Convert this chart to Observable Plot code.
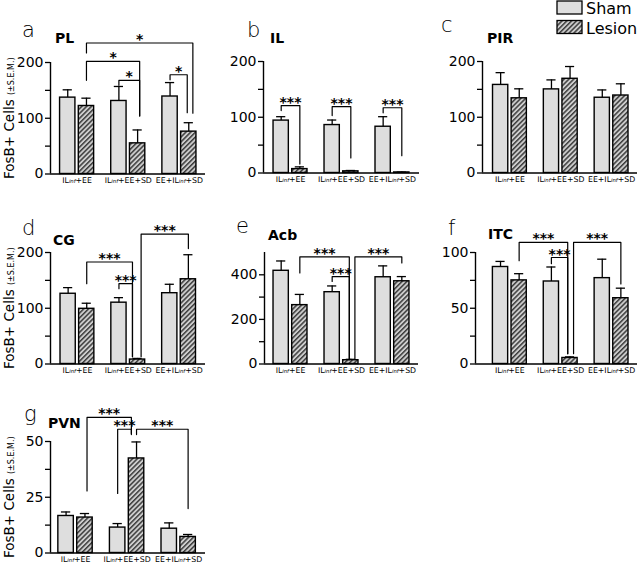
<!DOCTYPE html>
<html><head><meta charset="utf-8">
<script src="https://cdn.jsdelivr.net/npm/d3@7"></script>
<script src="https://cdn.jsdelivr.net/npm/@observablehq/plot@0.6"></script>
<style>
body{margin:0;background:#fff;}
#root{position:relative;width:640px;height:564px;overflow:hidden;font-family:"DejaVu Sans",sans-serif;}
#root svg{overflow:visible;}
</style></head><body><div id="root"></div>
<script>
// ---------- data ----------
const groups = ["ILinf+EE", "ILinf+EE+SD", "EE+ILinf+SD"];
const seriesNames = ["Sham", "Lesion"];
const regions = ["PL", "IL", "PIR", "CG", "Acb", "ITC", "PVN"];
const panelLetters = ["a", "b", "c", "d", "e", "f", "g"];
const shamMean   = [[137,131,139],[94,86,83],[158,150,135],[126,110,127],[418,322,389],[87,74,77],[16.6,11.4,10.9]];
const shamSem    = [[14,26,25],[7,9,18],[22,17,14],[11,9,16],[44,28,51],[5,13,17],[1.8,1.8,2.6]];
const lesionMean = [[122,55,76],[7,3,1],[134,169,139],[99,8,152],[264,17,371],[75,5.4,59],[15.9,42.4,7.2]];
const lesionSem  = [[14,24,16],[4,1.5,0.6],[17,22,21],[10,2,44],[48,4,21],[6,1,9],[1.8,7.4,1.1]];
const yMax = [200,200,200,200,500,100,50];
const yTicks = [[0,100,200],[0,100,200],[0,100,200],[0,100,200],[0,200,400],[0,50,100],[0,25,50]];
const yMinorTicks = [[50,150],[50,150],[50,150],[50,150],[100,300],[25,75],[12.5,37.5]];
const yLabel = "FosB+ Cells (±S.E.M.)";
// significance brackets: region, from bar (group, series) to bar, level and leg ends (data units)
const brackets = [
  {r:0,g1:0,s1:1,g2:2,s2:1,level:235,yb1:217,yb2:109,label:"*",n1:0,n2:0.08},
  {r:0,g1:0,s1:1,g2:1,s2:1,level:202,yb1:168,yb2:104,label:"*",n1:0,n2:0.04},
  {r:0,g1:1,s1:0,g2:1,s2:1,level:168,yb1:159,yb2:104,label:"*",n1:0,n2:0.04},
  {r:0,g1:2,s1:0,g2:2,s2:1,level:178,yb1:169,yb2:110,label:"*",n1:0,n2:-0.03},
  {r:1,g1:0,s1:0,g2:0,s2:1,level:121,yb1:112,yb2:16,label:"***",n1:0,n2:0},
  {r:1,g1:1,s1:0,g2:1,s2:1,level:119,yb1:103,yb2:27,label:"***",n1:0,n2:0},
  {r:1,g1:2,s1:0,g2:2,s2:1,level:117,yb1:108,yb2:31,label:"***",n1:0,n2:0},
  {r:3,g1:0,s1:1,g2:1,s2:1,level:183,yb1:144,yb2:13,label:"***",n1:0,n2:-0.1},
  {r:3,g1:1,s1:0,g2:1,s2:1,level:144,yb1:135,yb2:13,label:"***",n1:0,n2:-0.1},
  {r:3,g1:1,s1:1,g2:2,s2:1,level:233,yb1:13,yb2:207,label:"***",n1:0.07,n2:0},
  {r:4,g1:0,s1:1,g2:1,s2:1,level:480,yb1:408,yb2:20,label:"***",n1:0,n2:-0.03},
  {r:4,g1:1,s1:0,g2:1,s2:1,level:392,yb1:370,yb2:20,label:"***",n1:0,n2:-0.03},
  {r:4,g1:1,s1:1,g2:2,s2:1,level:480,yb1:20,yb2:453,label:"***",n1:0.08,n2:0},
  {r:5,g1:0,s1:1,g2:1,s2:1,level:109,yb1:92.6,yb2:9.3,label:"***",n1:0,n2:-0.045},
  {r:5,g1:1,s1:0,g2:1,s2:1,level:95.5,yb1:90,yb2:9.3,label:"***",n1:0,n2:-0.045},
  {r:5,g1:1,s1:1,g2:2,s2:1,level:109,yb1:9.3,yb2:71.8,label:"***",n1:0.07,n2:0},
  {r:6,g1:0,s1:1,g2:1,s2:1,level:60.8,yb1:27.8,yb2:53.6,label:"***",n1:0.04,n2:-0.1},
  {r:6,g1:1,s1:0,g2:1,s2:1,level:55.5,yb1:26.7,yb2:53.1,label:"***",n1:0,n2:-0.1},
  {r:6,g1:1,s1:1,g2:2,s2:1,level:55.5,yb1:53.1,yb2:19.9,label:"***",n1:0,n2:0}
];

// ---------- layout ----------
const layout = [
  {left:50,  top:61.5,  w:155, lo:-0.52,  hi:2.51, letter:[22,37],  title:[55,43],  ylab:true},
  {left:263, top:61,    w:156, lo:-0.53,  hi:2.53, letter:[247,37], title:[270,43]},
  {left:482, top:61,    w:155, lo:-0.54,  hi:2.51, letter:[441,32], title:[487,43]},
  {left:50,  top:252,   w:155, lo:-0.53,  hi:2.52, letter:[22,235], title:[53,245], ylab:true},
  {left:264, top:252,   w:154, lo:-0.51,  hi:2.51, letter:[236,233],title:[268,240]},
  {left:475, top:252,   w:162, lo:-0.675, hi:2.51, letter:[448,235],title:[488,239]},
  {left:50,  top:441.3, w:155, lo:-0.485, hi:2.52, letter:[24,421], title:[48,428], ylab:true}
];
const FH = 111.5, ML = 48, MR = 4, MT = 50, MB = 22;
const W_BAR = 0.15, OFF = 0.183, CAP = 0.09;
const pos = (g, s) => g + (s === 0 ? -OFF : OFF);

const root = document.getElementById("root");

regions.forEach((name, i) => {
  const L = layout[i];
  const rows = [];
  groups.forEach((gname, g) => {
    rows.push({g, s:0, mean: shamMean[i][g], sem: shamSem[i][g], x: pos(g,0)});
    rows.push({g, s:1, mean: lesionMean[i][g], sem: lesionSem[i][g], x: pos(g,1)});
  });
  const bks = brackets.filter(b => b.r === i).map((b, k) => ({...b, k, xa: pos(b.g1,b.s1)+b.n1, xb: pos(b.g2,b.s2)+b.n2}));
  const pts = bks.flatMap(b => [
    {k:b.k, x:b.xa, y:b.yb1}, {k:b.k, x:b.xa, y:b.level},
    {k:b.k, x:b.xb, y:b.level}, {k:b.k, x:b.xb, y:b.yb2}]);
  const hatchId = "hatch" + i;
  const major = yTicks[i];
  const marks = [
    Plot.rectY(rows.filter(d => d.s === 0), {x1: d => d.x - W_BAR, x2: d => d.x + W_BAR, y1: () => 0, y2: "mean", fill: "#dedede", stroke: "black", strokeWidth: 1.4}),
    Plot.rectY(rows.filter(d => d.s === 1), {x1: d => d.x - W_BAR, x2: d => d.x + W_BAR, y1: () => 0, y2: "mean", fill: `url(#${hatchId})`, stroke: "black", strokeWidth: 1.4}),
    Plot.ruleX(rows, {x: "x", y1: "mean", y2: d => d.mean + d.sem, stroke: "black", strokeWidth: 1.3}),
    Plot.ruleY(rows, {y: d => d.mean + d.sem, x1: d => d.x - CAP, x2: d => d.x + CAP, stroke: "black", strokeWidth: 1.3}),
    Plot.line(pts, {x: "x", y: "y", z: "k", stroke: "black", strokeWidth: 1.2}),
    Plot.text(bks, {x: d => (d.xa + d.xb) / 2, y: "level", text: "label", lineAnchor: "bottom", dy: 1, fontSize: 14, fontWeight: "bold", fill: "black"}),
    Plot.ruleX([L.lo], {stroke: "black", strokeWidth: 1.4}),
    Plot.ruleY([0], {stroke: "black", strokeWidth: 1.4}),
    Plot.axisY({ticks: [...major, ...yMinorTicks[i]], tickFormat: d => major.includes(d) ? String(d) : "", tickSize: 5, tickPadding: 2, fontSize: 14, label: null, strokeWidth: 1.3}),
    Plot.axisX({ticks: [0,1,2], tickFormat: k => groups[k], tickSize: 0, tickPadding: 3, fontSize: 7.8, label: null})
  ];
  if (L.ylab) marks.push(Plot.text([yLabel], {frameAnchor: "left", dx: -37, rotate: -90, fontSize: 13.5, textAnchor: "middle", lineAnchor: "bottom", fill: "black"}));
  const svg = Plot.plot({
    width: ML + L.w + MR, height: MT + FH + MB,
    marginLeft: ML, marginRight: MR, marginTop: MT, marginBottom: MB,
    x: {type: "linear", domain: [L.lo, L.hi]},
    y: {domain: [0, yMax[i]]},
    style: {fontFamily: "DejaVu Sans", background: "transparent", overflow: "visible", maxWidth: "none", color: "black"},
    marks
  });
  const defs = d3.select(svg).insert("defs", ":first-child");
  const pat = defs.append("pattern").attr("id", hatchId).attr("patternUnits", "userSpaceOnUse")
    .attr("width", 3.4).attr("height", 3.4).attr("patternTransform", "rotate(45)");
  pat.append("rect").attr("width", 3.4).attr("height", 3.4).attr("fill", "#cdcdcd");
  pat.append("rect").attr("width", 1.5).attr("height", 3.4).attr("fill", "#3c3c3c");
  d3.select(svg).selectAll("text").each(function () {
    const t = this.textContent;
    const sel = d3.select(this);
    if (t === yLabel) {
      sel.text(null);
      sel.append("tspan").text("FosB+ Cells ");
      sel.append("tspan").attr("font-size", 8).text("(±S.E.M.)");
    } else if (t.includes("inf")) {
      const parts = t.split("inf");
      sel.text(null);
      parts.forEach((p, k) => {
        if (k > 0) sel.append("tspan").attr("font-size", 5.3).attr("font-style", "italic").text("inf");
        if (p) sel.append("tspan").text(p);
      });
    }
  });
  svg.style.position = "absolute";
  svg.style.left = (L.left - ML) + "px";
  svg.style.top = (L.top - MT) + "px";
  root.appendChild(svg);
});

// ---------- overlay: panel letters, titles, legend ----------
const ov = d3.select(root).append("svg").attr("width", 640).attr("height", 564)
  .style("position", "absolute").style("left", "0px").style("top", "0px");
const odefs = ov.append("defs");
const opat = odefs.append("pattern").attr("id", "hatchLegend").attr("patternUnits", "userSpaceOnUse")
  .attr("width", 3.4).attr("height", 3.4).attr("patternTransform", "rotate(45)");
opat.append("rect").attr("width", 3.4).attr("height", 3.4).attr("fill", "#cdcdcd");
opat.append("rect").attr("width", 1.5).attr("height", 3.4).attr("fill", "#3c3c3c");
regions.forEach((name, i) => {
  const L = layout[i];
  ov.append("text").attr("x", L.letter[0]).attr("y", L.letter[1]).attr("font-size", 21).attr("font-weight", 200)
    .attr("font-family", "DejaVu Sans").text(panelLetters[i]);
  ov.append("text").attr("x", L.title[0]).attr("y", L.title[1]).attr("font-size", 14).attr("font-weight", "bold")
    .attr("font-family", "DejaVu Sans").text(name);
});
seriesNames.forEach((s, k) => {
  ov.append("rect").attr("x", 557).attr("y", 1 + k * 19.5).attr("width", 25).attr("height", 13)
    .attr("fill", k === 0 ? "#dedede" : "url(#hatchLegend)").attr("stroke", "black").attr("stroke-width", 1.3);
  ov.append("text").attr("x", 586).attr("y", 14 + k * 19.5).attr("font-size", 16)
    .attr("font-family", "DejaVu Sans").text(s);
});
</script></body></html>
